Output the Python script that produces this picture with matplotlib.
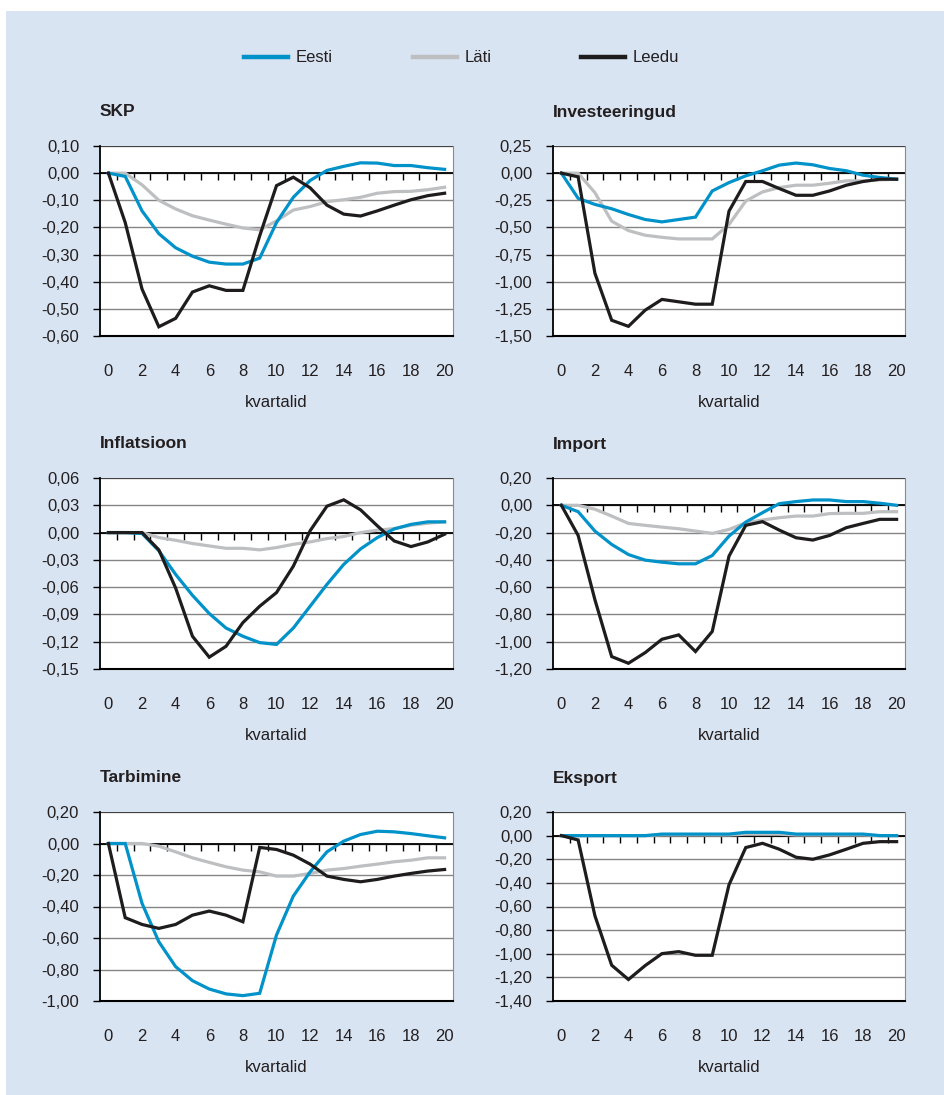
import matplotlib.pyplot as plt
from matplotlib.lines import Line2D
from matplotlib.patches import Rectangle
from matplotlib.ticker import FixedLocator, FixedFormatter

plt.rcParams['font.family'] = ['Liberation Sans', 'DejaVu Sans']

W, H = 944, 1095
quarters = list(range(21))
countries = ['Eesti', 'Läti', 'Leedu']
colors = {'Eesti': '#0092C9', 'Läti': '#BDBFC1', 'Leedu': '#1E1C1D'}

# impulse responses, per panel and country
skp_eesti = [0, -0.012, -0.139, -0.223, -0.275, -0.306, -0.328, -0.335, -0.335, -0.313, -0.182,
             -0.089, -0.027, 0.010, 0.025, 0.038, 0.037, 0.028, 0.028, 0.020, 0.014]
skp_lati = [0, 0, -0.043, -0.100, -0.132, -0.157, -0.173, -0.188, -0.202, -0.209, -0.176,
            -0.136, -0.123, -0.105, -0.098, -0.089, -0.074, -0.068, -0.067, -0.061, -0.052]
skp_leedu = [0, -0.182, -0.427, -0.566, -0.535, -0.438, -0.415, -0.432, -0.432, -0.231, -0.046,
             -0.015, -0.054, -0.118, -0.151, -0.158, -0.139, -0.118, -0.098, -0.083, -0.074]

inv_eesti = [0, -0.232, -0.288, -0.328, -0.381, -0.427, -0.449, -0.427, -0.405, -0.164, -0.087,
             -0.025, 0.022, 0.074, 0.093, 0.077, 0.043, 0.022, -0.019, -0.040, -0.056]
inv_lati = [0, 0, -0.180, -0.442, -0.529, -0.572, -0.591, -0.606, -0.606, -0.606, -0.473,
            -0.257, -0.173, -0.133, -0.111, -0.111, -0.093, -0.071, -0.071, -0.062, -0.056]
inv_leedu = [0, -0.034, -0.922, -1.355, -1.411, -1.262, -1.163, -1.185, -1.207, -1.207, -0.350,
             -0.077, -0.077, -0.142, -0.204, -0.204, -0.164, -0.111, -0.077, -0.056, -0.056]

inf_eesti = [0, 0, -0.001, -0.020, -0.046, -0.069, -0.089, -0.105, -0.114, -0.121, -0.123,
             -0.105, -0.081, -0.057, -0.035, -0.018, -0.0055, 0.004, 0.009, 0.0118, 0.0118]
inf_lati = [0, 0, 0, -0.0055, -0.0085, -0.012, -0.0147, -0.0173, -0.0173, -0.019, -0.0165,
            -0.0129, -0.0103, -0.0066, -0.0044, 0, 0.0026, 0.0044, 0.008, 0.0103, 0.0118]
inf_leedu = [0, 0, 0, -0.019, -0.061, -0.114, -0.137, -0.125, -0.099, -0.081, -0.066,
             -0.037, 0.002, 0.029, 0.036, 0.025, 0.0074, -0.0092, -0.0154, -0.0103, -0.0018]

imp_eesti = [0, -0.047, -0.189, -0.287, -0.361, -0.402, -0.417, -0.429, -0.429, -0.368, -0.226,
             -0.123, -0.054, 0.012, 0.027, 0.039, 0.039, 0.027, 0.027, 0.015, 0.0]
imp_lati = [0, 0, -0.029, -0.079, -0.133, -0.147, -0.160, -0.172, -0.189, -0.206, -0.177,
            -0.128, -0.108, -0.091, -0.079, -0.079, -0.061, -0.059, -0.059, -0.047, -0.047]
imp_leedu = [0, -0.221, -0.692, -1.109, -1.158, -1.080, -0.982, -0.950, -1.072, -0.925, -0.373,
             -0.147, -0.120, -0.182, -0.238, -0.255, -0.221, -0.164, -0.133, -0.103, -0.103]

tar_eesti = [0, 0, -0.380, -0.624, -0.782, -0.871, -0.924, -0.955, -0.966, -0.951, -0.581,
             -0.334, -0.180, -0.053, 0.015, 0.057, 0.078, 0.074, 0.063, 0.049, 0.036]
tar_lati = [0, 0, 0, -0.017, -0.053, -0.091, -0.120, -0.148, -0.169, -0.180, -0.207,
            -0.207, -0.190, -0.169, -0.159, -0.144, -0.131, -0.116, -0.106, -0.091, -0.091]
tar_leedu = [0, -0.471, -0.514, -0.539, -0.514, -0.455, -0.429, -0.455, -0.497, -0.025, -0.038,
             -0.074, -0.131, -0.207, -0.228, -0.243, -0.228, -0.207, -0.190, -0.175, -0.165]

eks_eesti = [0, 0, 0, 0, 0, 0, 0.013, 0.013, 0.013, 0.013, 0.013,
             0.028, 0.028, 0.028, 0.013, 0.013, 0.013, 0.013, 0.013, 0, 0]
eks_lati = [0, 0, 0, 0, 0, 0, 0.005, 0.005, 0.005, 0.005, 0.005,
            0.012, 0.012, 0.012, 0.005, 0.005, 0.005, 0.005, 0.005, 0, 0]
eks_leedu = [0, -0.037, -0.678, -1.097, -1.218, -1.100, -0.999, -0.982, -1.013, -1.013, -0.416,
             -0.101, -0.065, -0.115, -0.183, -0.200, -0.163, -0.115, -0.065, -0.051, -0.051]

titles = ['SKP', 'Investeeringud', 'Inflatsioon', 'Import', 'Tarbimine', 'Eksport']
series = [
    {'Eesti': skp_eesti, 'Läti': skp_lati, 'Leedu': skp_leedu},
    {'Eesti': inv_eesti, 'Läti': inv_lati, 'Leedu': inv_leedu},
    {'Eesti': inf_eesti, 'Läti': inf_lati, 'Leedu': inf_leedu},
    {'Eesti': imp_eesti, 'Läti': imp_lati, 'Leedu': imp_leedu},
    {'Eesti': tar_eesti, 'Läti': tar_lati, 'Leedu': tar_leedu},
    {'Eesti': eks_eesti, 'Läti': eks_lati, 'Leedu': eks_leedu},
]
yticks = [
    [0.10, 0.00, -0.10, -0.20, -0.30, -0.40, -0.50, -0.60],
    [0.25, 0.00, -0.25, -0.50, -0.75, -1.00, -1.25, -1.50],
    [0.06, 0.03, 0.00, -0.03, -0.06, -0.09, -0.12, -0.15],
    [0.20, 0.00, -0.20, -0.40, -0.60, -0.80, -1.00, -1.20],
    [0.20, 0.00, -0.20, -0.40, -0.60, -0.80, -1.00],
    [0.20, 0.00, -0.20, -0.40, -0.60, -0.80, -1.00, -1.20, -1.40],
]

# panel boxes in pixels: left, top, right, bottom
boxes = [
    (100, 146, 453, 336), (553, 146, 905, 336),
    (100, 478, 453, 669), (553, 478, 905, 669),
    (100, 812, 453, 1001), (553, 812, 905, 1001),
]

text_color = '#231F20'
fig = plt.figure(figsize=(W / 100, H / 100), dpi=100)
fig.patch.set_facecolor('white')
fig.add_artist(Rectangle((6 / W, 0), 1, (H - 11) / H, transform=fig.transFigure,
                         facecolor='#D9E4F2', edgecolor='none', zorder=0))

# legend row
for x0, name in zip([244, 413, 581], countries):
    fig.add_artist(Line2D([x0 / W, (x0 + 44) / W], [1 - 57 / H, 1 - 57 / H],
                          transform=fig.transFigure, color=colors[name], lw=3.2))
    fig.text((x0 + 52) / W, 1 - 57 / H, name, fontsize=12, color=text_color,
             va='center', ha='left')

for title, data, ticks, (l, t, r, b) in zip(titles, series, yticks, boxes):
    ax = fig.add_axes([l / W, 1 - b / H, (r - l) / W, (b - t) / H])
    ax.set_facecolor('white')
    for name in ['Läti', 'Eesti', 'Leedu']:
        ax.plot(quarters, data[name], color=colors[name], lw=2.3, zorder=3,
                solid_joinstyle='miter')
    ax.set_xlim(-0.5, 20.5)
    ax.set_ylim(ticks[-1], ticks[0])

    ax.yaxis.set_major_locator(FixedLocator(ticks))
    ax.yaxis.set_major_formatter(FixedFormatter([f'{v:.2f}'.replace('.', ',') for v in ticks]))
    ax.grid(axis='y', color='#858585', lw=1.0, zorder=1)
    ax.axhline(ticks[0], color='#3A3A3A', lw=1.3, zorder=2)

    # zero line carries the category ticks
    ax.spines['top'].set_position(('data', 0))
    ax.spines['top'].set_color('black')
    ax.spines['top'].set_linewidth(1.3)
    ax.spines['top'].set_zorder(2)
    ax.spines['right'].set_color('#8A8A8A')
    ax.spines['left'].set_linewidth(1.3)
    ax.spines['bottom'].set_linewidth(1.5)
    ax.xaxis.set_major_locator(FixedLocator(quarters[::2]))
    ax.xaxis.set_minor_locator(FixedLocator([k + 0.5 for k in range(20)]))
    ax.tick_params(axis='x', which='major', bottom=True, top=False, length=0,
                   labelsize=12, labelcolor=text_color, pad=20)
    ax.tick_params(axis='x', which='minor', bottom=False, top=True, direction='in',
                   length=5, width=1.0, color='black')
    ax.tick_params(axis='y', which='major', left=True, length=5, width=1.0,
                   labelsize=12, labelcolor=text_color, pad=10)
    ax.set_xlabel('kvartalid', fontsize=12, color=text_color, labelpad=12)

    fig.text(l / W, 1 - (t - 34) / H, title, fontsize=12.5, fontweight='bold',
             color=text_color, va='center', ha='left')

fig.savefig('out.png', dpi=100)
